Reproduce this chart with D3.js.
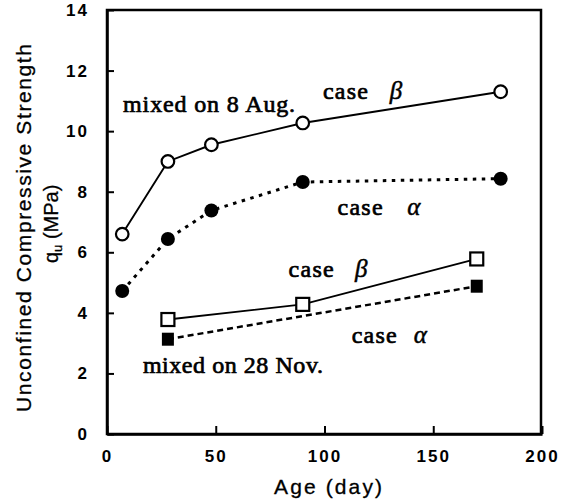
<!DOCTYPE html>
<html><head><meta charset="utf-8">
<script src="https://cdn.jsdelivr.net/npm/d3@7"></script>
<style>body{margin:0;background:#fff}</style>
</head><body>
<svg id="c" width="569" height="499"></svg>
<script>
// ---- data ----
const xTicks = [0, 50, 100, 150, 200];
const yTicks = [0, 2, 4, 6, 8, 10, 12, 14];
const ageAug = [7, 28, 48, 90, 181];
const betaAug = [6.6, 9.0, 9.55, 10.27, 11.3];
const alphaAug = [4.72, 6.44, 7.38, 8.32, 8.43];
const ageNovBeta = [28, 90, 170];
const betaNov = [3.78, 4.28, 5.78];
const ageNovAlpha = [28, 170];
const alphaNov = [3.13, 4.88];
const labels = [
  {t: "mixed on 8 Aug.", x: 7.4, y: 10.62, w: 172},
  {t: "mixed on 28 Nov.", x: 16.5, y: 2.0, w: 180}
];

const svg = d3.select("#c");
const L = 107, R = 541, T = 10, B = 434;
const x = d3.scaleLinear().domain([0, 200]).range([L, 542]);
const y = d3.scaleLinear().domain([0, 14]).range([B, T]);

// frame
const g = svg.append("g");
g.append("rect").attr("x", L).attr("y", T).attr("width", R - L).attr("height", B - T)
  .attr("fill", "none").attr("stroke", "#000").attr("stroke-width", 2.5);

const yAxis = g.append("g").attr("transform", `translate(${L},0)`)
  .call(d3.axisLeft(y).tickValues(yTicks).tickSizeInner(-7).tickSizeOuter(0).tickPadding(18));
const xAxis = g.append("g").attr("transform", `translate(0,${B})`)
  .call(d3.axisBottom(x).tickValues(xTicks).tickSizeInner(-8).tickSizeOuter(0).tickPadding(16));
[yAxis, xAxis].forEach(a => {
  a.select(".domain").attr("stroke-width", 2.5);
  a.selectAll(".tick line").attr("stroke-width", 2);
  a.selectAll("text").attr("font-family", "Liberation Sans, Arial, sans-serif")
    .attr("font-weight", "bold").attr("font-size", 17).attr("fill", "#000")
    .style("letter-spacing", "2px");
});

// axis titles
svg.append("text").attr("transform", "translate(31,228) rotate(-90)")
  .attr("text-anchor", "middle").attr("font-family", "Liberation Sans, Arial, sans-serif")
  .attr("font-size", 21).attr("textLength", 368).attr("lengthAdjust", "spacing")
  .attr("stroke", "#000").attr("stroke-width", 0.3)
  .text("Unconfined Compressive Strength");
const q = svg.append("text").attr("transform", "translate(58,263) rotate(-90)")
  .attr("font-family", "Liberation Sans, Arial, sans-serif").attr("font-size", 20)
  .attr("stroke", "#000").attr("stroke-width", 0.3);
q.append("tspan").text("q");
q.append("tspan").attr("font-size", 13).attr("dy", 4).text("u");
q.append("tspan").attr("dy", -4).text(" (MPa)");
svg.append("text").attr("x", 328).attr("y", 494).attr("text-anchor", "middle")
  .attr("font-family", "Liberation Sans, Arial, sans-serif").attr("font-size", 21)
  .attr("stroke", "#000").attr("stroke-width", 0.3)
  .attr("textLength", 108).attr("lengthAdjust", "spacing").text("Age (day)");

// lines
const line = d3.line().x(d => x(d[0])).y(d => y(d[1]));
const zip = (a, b) => a.map((v, i) => [v, b[i]]);
svg.append("path").attr("d", line(zip(ageAug, alphaAug))).attr("fill", "none")
  .attr("stroke", "#000").attr("stroke-width", 3).attr("stroke-dasharray", "3.5,5.5");
svg.append("path").attr("d", line(zip(ageNovAlpha, alphaNov))).attr("fill", "none")
  .attr("stroke", "#000").attr("stroke-width", 2.5).attr("stroke-dasharray", "6,4");
svg.append("path").attr("d", line(zip(ageAug, betaAug))).attr("fill", "none")
  .attr("stroke", "#000").attr("stroke-width", 1.9);
svg.append("path").attr("d", line(zip(ageNovBeta, betaNov))).attr("fill", "none")
  .attr("stroke", "#000").attr("stroke-width", 1.9);

// markers
svg.append("g").selectAll("circle").data(zip(ageAug, alphaAug)).join("circle")
  .attr("cx", d => x(d[0])).attr("cy", d => y(d[1])).attr("r", 7).attr("fill", "#000");
svg.append("g").selectAll("circle").data(zip(ageAug, betaAug)).join("circle")
  .attr("cx", d => x(d[0])).attr("cy", d => y(d[1])).attr("r", 6.3)
  .attr("fill", "#fff").attr("stroke", "#000").attr("stroke-width", 2.2);
svg.append("g").selectAll("rect").data(zip(ageNovAlpha, alphaNov)).join("rect")
  .attr("x", d => x(d[0]) - 6).attr("y", d => y(d[1]) - 6.5).attr("width", 12).attr("height", 13)
  .attr("fill", "#000");
svg.append("g").selectAll("rect").data(zip(ageNovBeta, betaNov)).join("rect")
  .attr("x", d => x(d[0]) - 6.5).attr("y", d => y(d[1]) - 6.5).attr("width", 13).attr("height", 13)
  .attr("fill", "#fff").attr("stroke", "#000").attr("stroke-width", 2.2);

// annotations
const serif = "Liberation Serif, Times New Roman, serif";
labels.forEach(l => {
  svg.append("text").attr("x", x(l.x)).attr("y", y(l.y)).attr("font-family", serif)
    .attr("font-size", 24).attr("stroke", "#000").attr("stroke-width", 0.7)
    .attr("textLength", l.w).attr("lengthAdjust", "spacing").text(l.t);
});
const cases = [
  {x: 99.3, y: 11.06, g: "β", gx: 130},
  {x: 106, y: 7.23, g: "α", gx: 138},
  {x: 83.5, y: 5.18, g: "β", gx: 114},
  {x: 112.5, y: 2.99, g: "α", gx: 141}
];
cases.forEach(c => {
  svg.append("text").attr("x", x(c.x)).attr("y", y(c.y)).attr("font-family", serif)
    .attr("font-size", 24).attr("stroke", "#000").attr("stroke-width", 0.7)
    .attr("textLength", 45).attr("lengthAdjust", "spacing").text("case");
  svg.append("text").attr("x", x(c.gx)).attr("y", y(c.y)).attr("font-family", serif)
    .attr("font-style", "italic").attr("font-size", 25)
    .attr("stroke", "#000").attr("stroke-width", 0.5).text(c.g);
});
</script>
</body></html>
